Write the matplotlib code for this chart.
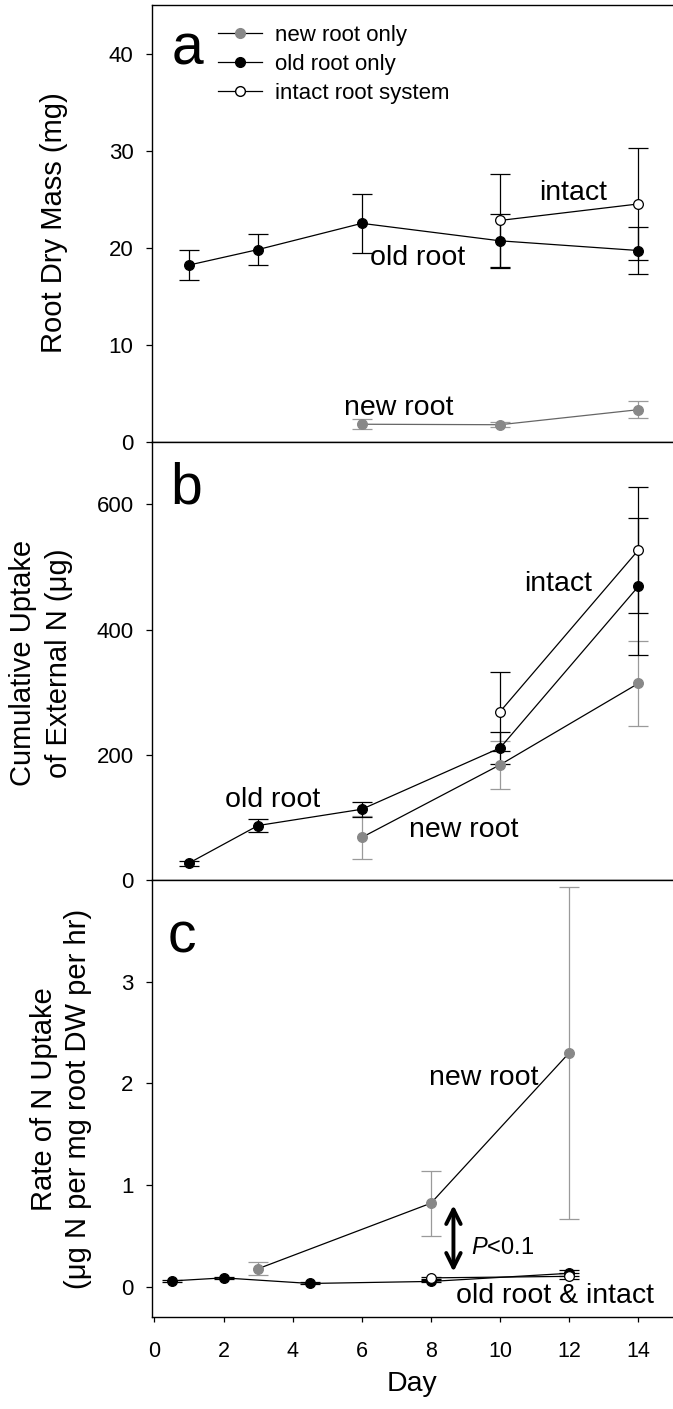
import matplotlib
matplotlib.use("Agg")
import matplotlib.pyplot as plt
from matplotlib.lines import Line2D

plt.rcParams['font.family'] = ['Liberation Sans', 'DejaVu Sans']
plt.rcParams['mathtext.fontset'] = 'custom'
plt.rcParams['mathtext.rm'] = 'Liberation Sans'
plt.rcParams['mathtext.it'] = 'Liberation Sans:italic'

# panel a: root dry mass (mg)
days_a_old = [1, 3, 6, 10, 14]
mass_old = [18.2, 19.8, 22.5, 20.7, 19.7]
mass_old_err = [1.55, 1.6, 3.05, 2.8, 2.4]
days_a_new = [6, 10, 14]
mass_new = [1.8, 1.75, 3.3]
mass_new_err = [0.5, 0.25, 0.9]
days_a_int = [10, 14]
mass_int = [22.8, 24.5]
mass_int_err = [4.8, 5.8]

# panel b: cumulative uptake of external N (ug)
days_b_old = [1, 3, 6, 10, 14]
upt_old = [27, 87, 113, 211, 469]
upt_old_err = [4, 10, 12, 25, 109]
days_b_new = [6, 10, 14]
upt_new = [68, 184, 314]
upt_new_err = [35, 38, 68]
days_b_int = [10, 14]
upt_int = [269, 527]
upt_int_err = [63, 101]

# panel c: rate of N uptake
days_c_old = [0.5, 2, 4.5, 8, 12]
rate_old = [0.055, 0.085, 0.03, 0.05, 0.13]
rate_old_err = [0.01, 0.01, 0.01, 0.01, 0.03]
days_c_new = [3, 8, 12]
rate_new = [0.175, 0.82, 2.30]
rate_new_err = [0.065, 0.32, 1.635]
days_c_int = [8, 12]
rate_int = [0.085, 0.10]
rate_int_err = [0.01, 0.03]

x_ticks = [0, 2, 4, 6, 8, 10, 12, 14]

GREY = '#888888'
ERR_GREY = '#9a9a9a'
MS = 7
CAP = 7.5
LW = 0.9
ANN = 20.5


def series(ax, x, y, err, kind, line_color='black'):
    if kind == 'new':
        face, edge, ecol = GREY, GREY, ERR_GREY
    elif kind == 'old':
        face, edge, ecol = 'black', 'black', 'black'
    else:
        face, edge, ecol = 'white', 'black', 'black'
    ax.errorbar(x, y, yerr=err, fmt='none', ecolor=ecol, elinewidth=LW,
                capsize=CAP, capthick=LW, zorder=2)
    ax.plot(x, y, '-', color=line_color, lw=LW, zorder=3)
    ax.plot(x, y, 'o', ms=MS, mfc=face, mec=edge, mew=0.9, zorder=4)


W, H = 673, 1409
fig = plt.figure(figsize=(W / 100, H / 100), dpi=100)
left = 151.6 / W
width = 1 - left
ax_a = fig.add_axes([left, 1 - 441.7 / H, width, 436.7 / H])
ax_b = fig.add_axes([left, 1 - 880 / H, width, 438.3 / H])
ax_c = fig.add_axes([left, 1 - 1317 / H, width, 437 / H])

for ax in (ax_a, ax_b, ax_c):
    ax.set_xlim(-0.08, 15)
    ax.spines['right'].set_visible(False)
    for s in ('left', 'top', 'bottom'):
        ax.spines[s].set_linewidth(1.0)
    ax.tick_params(axis='y', direction='out', length=4, width=0.9,
                   pad=9, labelsize=16)

for ax in (ax_a, ax_b):
    ax.set_xticks([])

ax_c.set_xticks(x_ticks)
ax_c.tick_params(axis='x', direction='out', length=3.5, width=0.9,
                 pad=14, labelsize=15.5)

# panel a
series(ax_a, days_a_new, mass_new, mass_new_err, 'new', line_color='#666666')
series(ax_a, days_a_old, mass_old, mass_old_err, 'old')
series(ax_a, days_a_int, mass_int, mass_int_err, 'int')
ax_a.set_ylim(0, 45)
ax_a.set_yticks([0, 10, 20, 30, 40])
ax_a.text(0.068, 0.863, 'a', transform=ax_a.transAxes, fontsize=41,
          ha='center', va='baseline')
ax_a.text(12.12, 24.9, 'intact', fontsize=ANN, ha='center', va='baseline')
ax_a.text(7.62, 18.2, 'old root', fontsize=ANN, ha='center', va='baseline')
ax_a.text(7.07, 2.8, 'new root', fontsize=ANN, ha='center', va='baseline')

handles = [
    Line2D([], [], color='black', lw=LW, marker='o', ms=MS, mfc=GREY, mec=GREY),
    Line2D([], [], color='black', lw=LW, marker='o', ms=MS, mfc='black', mec='black'),
    Line2D([], [], color='black', lw=LW, marker='o', ms=MS, mfc='white', mec='black'),
]
ax_a.legend(handles, ['new root only', 'old root only', 'intact root system'],
            loc='upper left', bbox_to_anchor=(0.118, 0.965), frameon=False,
            fontsize=16, handlelength=2.0, handletextpad=0.6,
            labelspacing=0.37, borderpad=0.2, borderaxespad=0)

# panel b
series(ax_b, days_b_new, upt_new, upt_new_err, 'new')
series(ax_b, days_b_old, upt_old, upt_old_err, 'old')
series(ax_b, days_b_int, upt_int, upt_int_err, 'int')
ax_b.set_ylim(0, 700)
ax_b.set_yticks([0, 200, 400, 600])
ax_b.text(0.066, 0.860, 'b', transform=ax_b.transAxes, fontsize=41,
          ha='center', va='baseline')
ax_b.text(11.68, 461, 'intact', fontsize=ANN, ha='center', va='baseline')
ax_b.text(3.41, 117, 'old root', fontsize=ANN, ha='center', va='baseline')
ax_b.text(8.96, 68, 'new root', fontsize=ANN, ha='center', va='baseline')

# panel c
series(ax_c, days_c_new, rate_new, rate_new_err, 'new')
series(ax_c, days_c_old, rate_old, rate_old_err, 'old')
series(ax_c, days_c_int, rate_int, rate_int_err, 'int')
ax_c.set_ylim(-0.3, 4.0)
ax_c.set_yticks([0, 1, 2, 3])
ax_c.text(0.058, 0.834, 'c', transform=ax_c.transAxes, fontsize=41,
          ha='center', va='baseline')
ax_c.text(9.53, 1.98, 'new root', fontsize=ANN, ha='center', va='baseline')
ax_c.text(11.59, -0.165, 'old root & intact', fontsize=ANN, ha='center',
          va='baseline')
ax_c.annotate('', xy=(8.65, 0.80), xytext=(8.65, 0.145),
              arrowprops=dict(arrowstyle='<->', lw=2.8, color='black',
                              mutation_scale=26, shrinkA=0, shrinkB=0))
ax_c.text(9.17, 0.32, r'$\mathit{P}$<0.1', fontsize=17, ha='left',
          va='baseline')
ax_c.set_xlabel('Day', fontsize=20.5, labelpad=6)

# y labels
fig.text(54 / W, 1 - 223 / H, 'Root Dry Mass (mg)', rotation=90,
         fontsize=21, ha='center', va='center')
fig.text(41 / W, 1 - 663 / H, 'Cumulative Uptake\nof External N (\u03bcg)',
         rotation=90, fontsize=21, ha='center', va='center',
         multialignment='center', linespacing=1.4)
fig.text(61 / W, 1 - 1099 / H,
         'Rate of N Uptake\n(\u03bcg N per mg root DW per hr)',
         rotation=90, fontsize=21, ha='center', va='center',
         multialignment='center', linespacing=1.3)

fig.savefig('out.png', dpi=100)
